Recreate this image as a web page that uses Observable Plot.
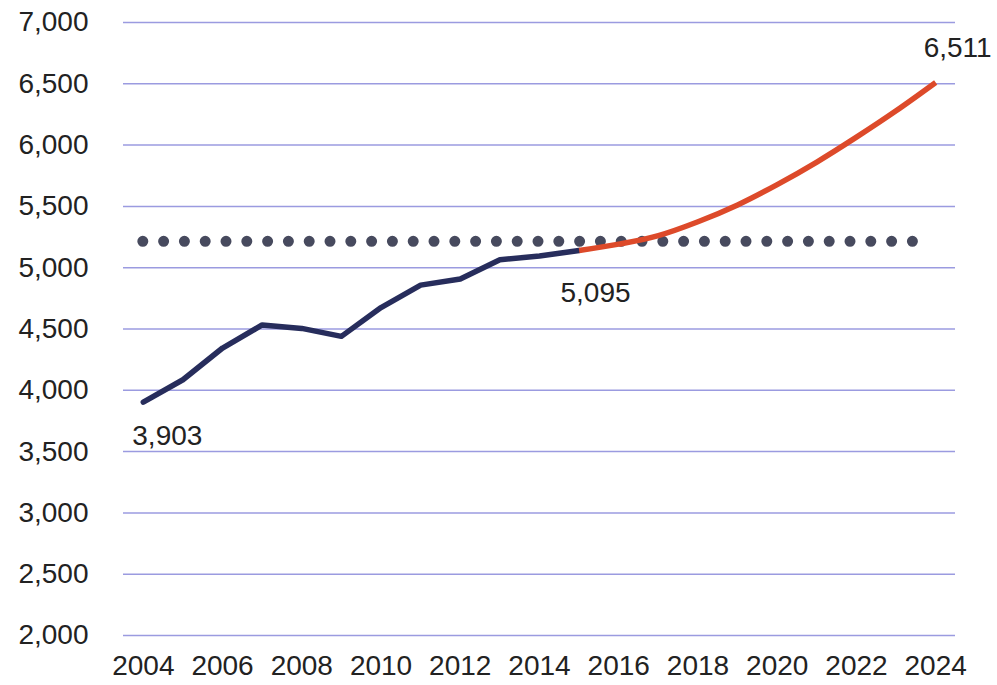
<!DOCTYPE html>
<html>
<head>
<meta charset="utf-8">
<script src="https://cdn.jsdelivr.net/npm/d3@7"></script>
<script src="https://cdn.jsdelivr.net/npm/@observablehq/plot@0.6"></script>
<style>
  html, body { margin: 0; padding: 0; background: #fff; }
  svg { display: block; }
</style>
</head>
<body>
<div id="chart"></div>
<script>
// Historical series (navy)
const histYears  = [2004, 2005, 2006, 2007, 2008, 2009, 2010, 2011, 2012, 2013, 2014, 2015];
const histValues = [3903, 4086, 4345, 4533, 4505, 4440, 4675, 4858, 4908, 5065, 5095, 5140];
// Projection series (red)
const projYears  = [2015, 2016, 2017, 2018, 2019, 2020, 2021, 2022, 2023, 2024];
const projValues = [5140, 5192, 5262, 5375, 5512, 5678, 5862, 6065, 6280, 6511];
// Dotted reference level
const refLevel = [5215];
const refSpan  = [2004, 2023.6];
// Labelled points
const labelYears  = [2004, 2014, 2024];
const labelValues = [3903, 5095, 6511];
// Axis ticks
const yTicks = [2000, 2500, 3000, 3500, 4000, 4500, 5000, 5500, 6000, 6500, 7000];
const xTicks = [2004, 2006, 2008, 2010, 2012, 2014, 2016, 2018, 2020, 2022, 2024];

const hist = histYears.map((y, i) => ({year: y, value: histValues[i]}));
const proj = projYears.map((y, i) => ({year: y, value: projValues[i]}));
const labels = labelYears.map((y, i) => ({year: y, value: labelValues[i]}));
const fmt = d3.format(",");

const chart = Plot.plot({
  width: 997,
  height: 685,
  marginLeft: 123,
  marginRight: 42,
  marginTop: 22,
  marginBottom: 50,
  style: {fontFamily: "'Liberation Sans', Arial, sans-serif", fontSize: "28px", color: "#222", background: "#fff"},
  x: {domain: [2003.5, 2024.5], ticks: xTicks, tickFormat: d => String(d), tickSize: 0, tickPadding: 20, label: null},
  y: {domain: [2000, 7000], ticks: yTicks, tickFormat: fmt, tickSize: 0, tickPadding: 35, label: null},
  marks: [
    Plot.gridY(yTicks, {stroke: "#9b9be0", strokeOpacity: 1, strokeWidth: 1.5}),
    Plot.axisX({ticks: xTicks, tickFormat: d => String(d), tickSize: 0, tickPadding: 20, label: null, fontSize: 28}),
    Plot.axisY({ticks: yTicks, tickFormat: fmt, tickSize: 0, tickPadding: 35, label: null, fontSize: 28}),
    Plot.ruleY(refLevel, {x1: refSpan[0], x2: refSpan[1], stroke: "#474a5e", strokeWidth: 11,
      strokeDasharray: "0 20.8", strokeLinecap: "round"}),
    Plot.line(hist, {x: "year", y: "value", stroke: "#272d5c", strokeWidth: 5.5, strokeLinejoin: "round", strokeLinecap: "round"}),
    Plot.line(proj, {x: "year", y: "value", stroke: "#dd4a2a", strokeWidth: 5.5, curve: "monotone-x", strokeLinecap: "butt"}),
    Plot.text(labels.slice(0, 1), {x: "year", y: "value", text: d => fmt(d.value), dx: 24, dy: 34, fill: "#222", fontSize: 28}),
    Plot.text(labels.slice(1, 2), {x: "year", y: "value", text: d => fmt(d.value), dx: 56, dy: 37, fill: "#222", fontSize: 28}),
    Plot.text(labels.slice(2, 3), {x: "year", y: "value", text: d => fmt(d.value), dx: 22, dy: -34, fill: "#222", fontSize: 28})
  ]
});
document.getElementById("chart").appendChild(chart);
</script>
</body>
</html>
